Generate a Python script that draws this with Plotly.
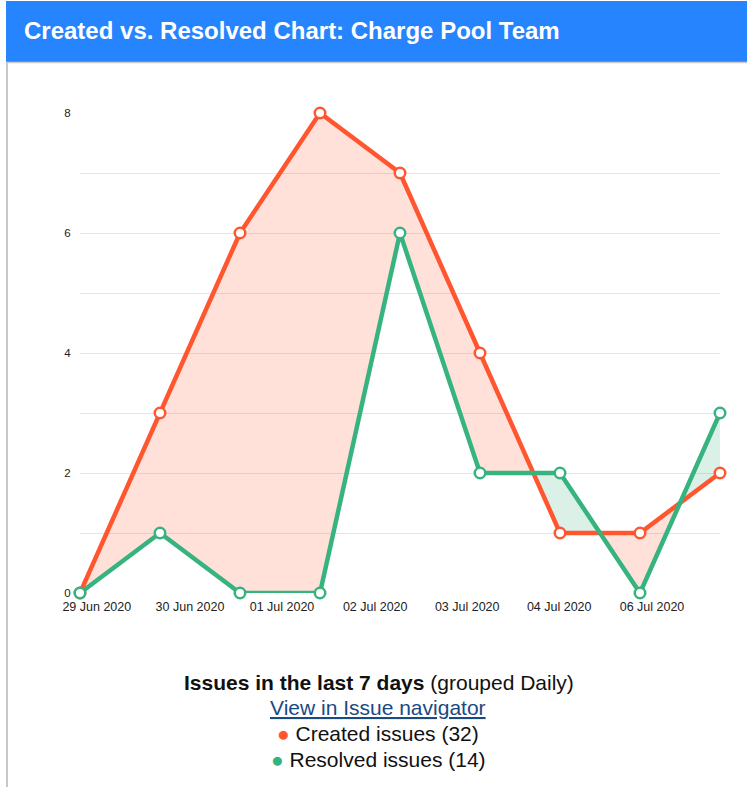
import plotly.graph_objects as go

# ---- data ----
day_index = [0, 1, 2, 3, 4, 5, 6, 7, 8]
created = [0, 3, 6, 8, 7, 4, 1, 1, 2]
resolved = [0, 1, 0, 0, 6, 2, 2, 0, 3]
tick_labels = ["29 Jun 2020", "30 Jun 2020", "01 Jul 2020", "02 Jul 2020",
               "03 Jul 2020", "04 Jul 2020", "06 Jul 2020"]
tick_pos = [0.21, 1.375, 2.525, 3.69, 4.84, 5.99, 7.15]
y_ticks = [0, 2, 4, 6, 8]

title_text = "Created vs. Resolved Chart: Charge Pool Team"
created_name = "Created issues"
resolved_name = "Resolved issues"

RED = "#FF5630"
GREEN = "#36B37E"
RED_FILL = "rgba(255,86,48,0.18)"
GREEN_FILL = "rgba(54,179,126,0.18)"

# build fill outlines (insert line crossings so fills switch colour exactly)
fx, fc, fr = [], [], []
for i in range(len(day_index)):
    if i > 0:
        d0 = created[i - 1] - resolved[i - 1]
        d1 = created[i] - resolved[i]
        if d0 * d1 < 0:
            t = d0 / (d0 - d1)
            xc = day_index[i - 1] + t * (day_index[i] - day_index[i - 1])
            yc = created[i - 1] + t * (created[i] - created[i - 1])
            fx.append(xc); fc.append(yc); fr.append(yc)
    fx.append(day_index[i]); fc.append(created[i]); fr.append(resolved[i])
fmin = [min(a, b) for a, b in zip(fc, fr)]

fig = go.Figure()
# red fill: between min and created
fig.add_trace(go.Scatter(x=fx, y=fmin, mode="lines", line=dict(width=0),
                         hoverinfo="skip", showlegend=False))
fig.add_trace(go.Scatter(x=fx, y=fc, mode="lines", line=dict(width=0),
                         fill="tonexty", fillcolor=RED_FILL,
                         hoverinfo="skip", showlegend=False))
# green fill: between min and resolved
fig.add_trace(go.Scatter(x=fx, y=fmin, mode="lines", line=dict(width=0),
                         hoverinfo="skip", showlegend=False))
fig.add_trace(go.Scatter(x=fx, y=fr, mode="lines", line=dict(width=0),
                         fill="tonexty", fillcolor=GREEN_FILL,
                         hoverinfo="skip", showlegend=False))

marker_common = dict(size=10.5, color="white", symbol="circle")
fig.add_trace(go.Scatter(x=day_index, y=created, mode="lines+markers",
                         name=created_name,
                         line=dict(color=RED, width=4.5),
                         marker=dict(**marker_common, line=dict(color=RED, width=2.5)),
                         cliponaxis=False, showlegend=False))
fig.add_trace(go.Scatter(x=day_index, y=resolved, mode="lines+markers",
                         name=resolved_name,
                         line=dict(color=GREEN, width=4.5),
                         marker=dict(**marker_common, line=dict(color=GREEN, width=2.5)),
                         cliponaxis=False, showlegend=False))

font_main = "Arial, Liberation Sans, sans-serif"

fig.update_xaxes(range=[0, 8], tickmode="array", tickvals=tick_pos, ticktext=tick_labels,
                 showgrid=False, zeroline=False, showline=False,
                 tickfont=dict(family=font_main, size=12.5, color="#222"),
                 ticks="outside", ticklen=2, tickcolor="rgba(0,0,0,0)")
fig.update_yaxes(range=[0, 8], tickmode="array", tickvals=y_ticks,
                 showgrid=True, gridcolor="#e4e4e4", gridwidth=1,
                 minor=dict(dtick=1, showgrid=True, gridcolor="#e4e4e4", gridwidth=1),
                 zeroline=False, showline=False,
                 tickfont=dict(family=font_main, size=11.5, color="#222"),
                 ticks="outside", ticklen=6, tickcolor="rgba(0,0,0,0)")

shapes = [
    # header bar
    dict(type="rect", xref="paper", yref="paper", x0=-74 / 640, x1=1.05,
         y0=1 + 51 / 480, y1=1 + 112 / 480, fillcolor="#2684FF", line=dict(width=0),
         layer="above"),
    dict(type="line", xref="paper", yref="paper", x0=-74 / 640, x1=1.05,
         y0=1 + 50.5 / 480, y1=1 + 50.5 / 480, line=dict(color="#cccccc", width=1.5)),
    # left border
    dict(type="line", xref="paper", yref="paper", x0=-73 / 640, x1=-73 / 640,
         y0=-194 / 480, y1=1 + 51 / 480, line=dict(color="#c8c8c8", width=2)),
]

annotations = [
    dict(text="<b>" + title_text + "</b>", xref="paper", yref="paper",
         x=-58 / 640, y=1 + 83 / 480, xanchor="left", yanchor="middle",
         showarrow=False, font=dict(family=font_main, size=24, color="white")),
    dict(text="<b>Issues in the last 7 days</b> (grouped Daily)", xref="paper", yref="paper",
         x=299 / 640, y=-89 / 480, xanchor="center", yanchor="middle", showarrow=False,
         font=dict(family=font_main, size=21, color="#111")),
    dict(text="<u>View in Issue navigator</u>", xref="paper", yref="paper",
         x=298 / 640, y=-114 / 480, xanchor="center", yanchor="middle", showarrow=False,
         font=dict(family=font_main, size=21, color="#1b4a80")),
    dict(text="<span style='color:" + RED + "'>●</span> " + created_name + " (" + str(sum(created)) + ")",
         xref="paper", yref="paper",
         x=298 / 640, y=-140 / 480, xanchor="center", yanchor="middle", showarrow=False,
         font=dict(family=font_main, size=21, color="#111")),
    dict(text="<span style='color:" + GREEN + "'>●</span> " + resolved_name + " (" + str(sum(resolved)) + ")",
         xref="paper", yref="paper",
         x=298 / 640, y=-166 / 480, xanchor="center", yanchor="middle", showarrow=False,
         font=dict(family=font_main, size=21, color="#111")),
]

fig.update_layout(
    width=747, height=787,
    margin=dict(l=80, r=27, t=113, b=194),
    plot_bgcolor="white", paper_bgcolor="white",
    shapes=shapes, annotations=annotations,
    showlegend=False,
)

fig.write_html("out.html", config={"displayModeBar": False},
               post_script="document.body.style.margin='0';")
